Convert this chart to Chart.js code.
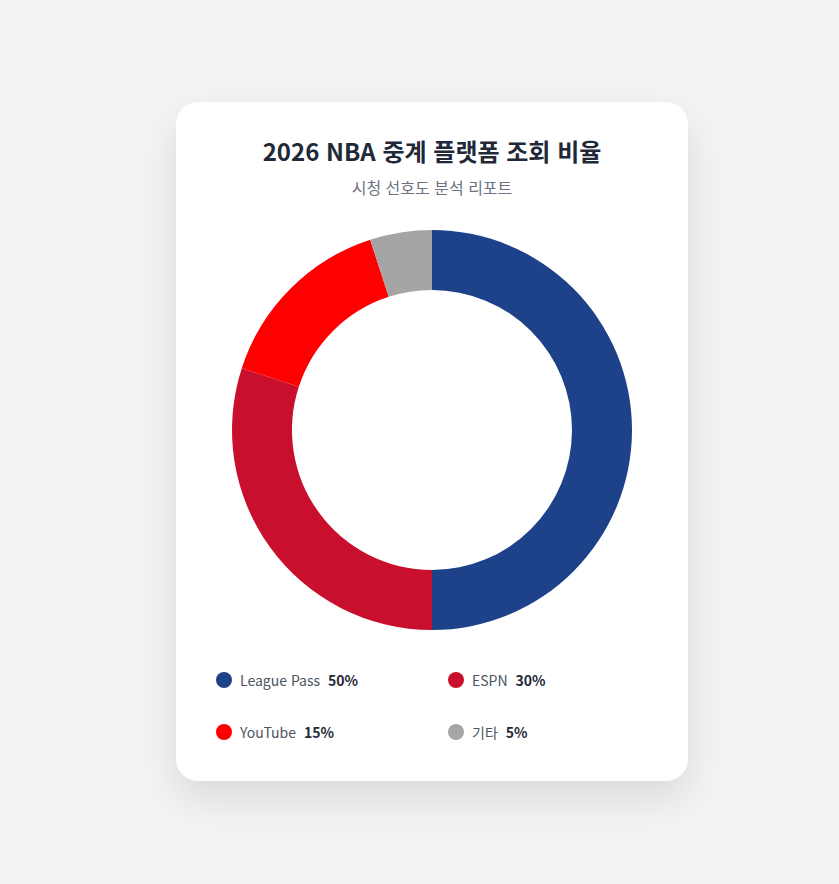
<!DOCTYPE html>
<html lang="ko">
<head>
<meta charset="utf-8">
<script src="https://cdn.jsdelivr.net/npm/chart.js@4"></script>
<style>
  body {
    margin: 0;
    background: #f2f3f5;
    font-family: "Noto Sans CJK KR", "Noto Sans", sans-serif;
  }
  .card {
    position: absolute;
    left: 176px;
    top: 102px;
    width: 512px;
    box-sizing: border-box;
    padding: 32px 32px 37px;
    background: #fff;
    border-radius: 22px;
    box-shadow: 0 18px 40px rgba(0, 0, 0, 0.10);
  }
  h1 {
    margin: 0;
    font-size: 24px;
    line-height: 34px;
    font-weight: 700;
    text-align: center;
    color: #1f2937;
  }
  .sub {
    margin-top: 8px;
    font-size: 16px;
    line-height: 22px;
    text-align: center;
    color: #6b7280;
  }
  .chart-box {
    position: relative;
    margin-top: 32px;
    height: 400px;
  }
  .legend {
    display: grid;
    grid-template-columns: 232px 232px;
    row-gap: 28px;
    margin: 38px 0 0 8px;
  }
  .item {
    display: flex;
    align-items: center;
    height: 24px;
    font-size: 14px;
    color: #4b5563;
  }
  .dot {
    width: 16px;
    height: 16px;
    border-radius: 50%;
    margin-right: 8px;
  }
  .item b {
    margin-left: 8px;
    color: #1f2937;
  }
</style>
</head>
<body>
<div class="card">
  <h1>2026 NBA 중계 플랫폼 조회 비율</h1>
  <div class="sub">시청 선호도 분석 리포트</div>
  <div class="chart-box"><canvas id="donut"></canvas></div>
  <div class="legend" id="legend"></div>
</div>
<script>
const platforms = ['League Pass', 'ESPN', 'YouTube', '기타'];
const shares = [50, 30, 15, 5];
const colors = ['#1d428a', '#c8102e', '#ff0000', '#a5a5a5'];

document.addEventListener('DOMContentLoaded', () => {
    const ctx = document.getElementById('donut').getContext('2d');
    new Chart(ctx, {
        type: 'doughnut',
        data: {
            labels: platforms,
            datasets: [{
                data: shares,
                backgroundColor: colors,
                borderWidth: 0
            }]
        },
        options: {
            responsive: true,
            maintainAspectRatio: false,
            cutout: '70%',
            animation: false,
            plugins: {
                legend: { display: false },
                tooltip: { enabled: false }
            }
        }
    });

    // custom legend below the chart
    const legend = document.getElementById('legend');
    platforms.forEach((name, i) => {
        const item = document.createElement('div');
        item.className = 'item';
        item.innerHTML = `<span class="dot" style="background:${colors[i]}"></span>${name}<b>${shares[i]}%</b>`;
        legend.appendChild(item);
    });
});
</script>
</body>
</html>
